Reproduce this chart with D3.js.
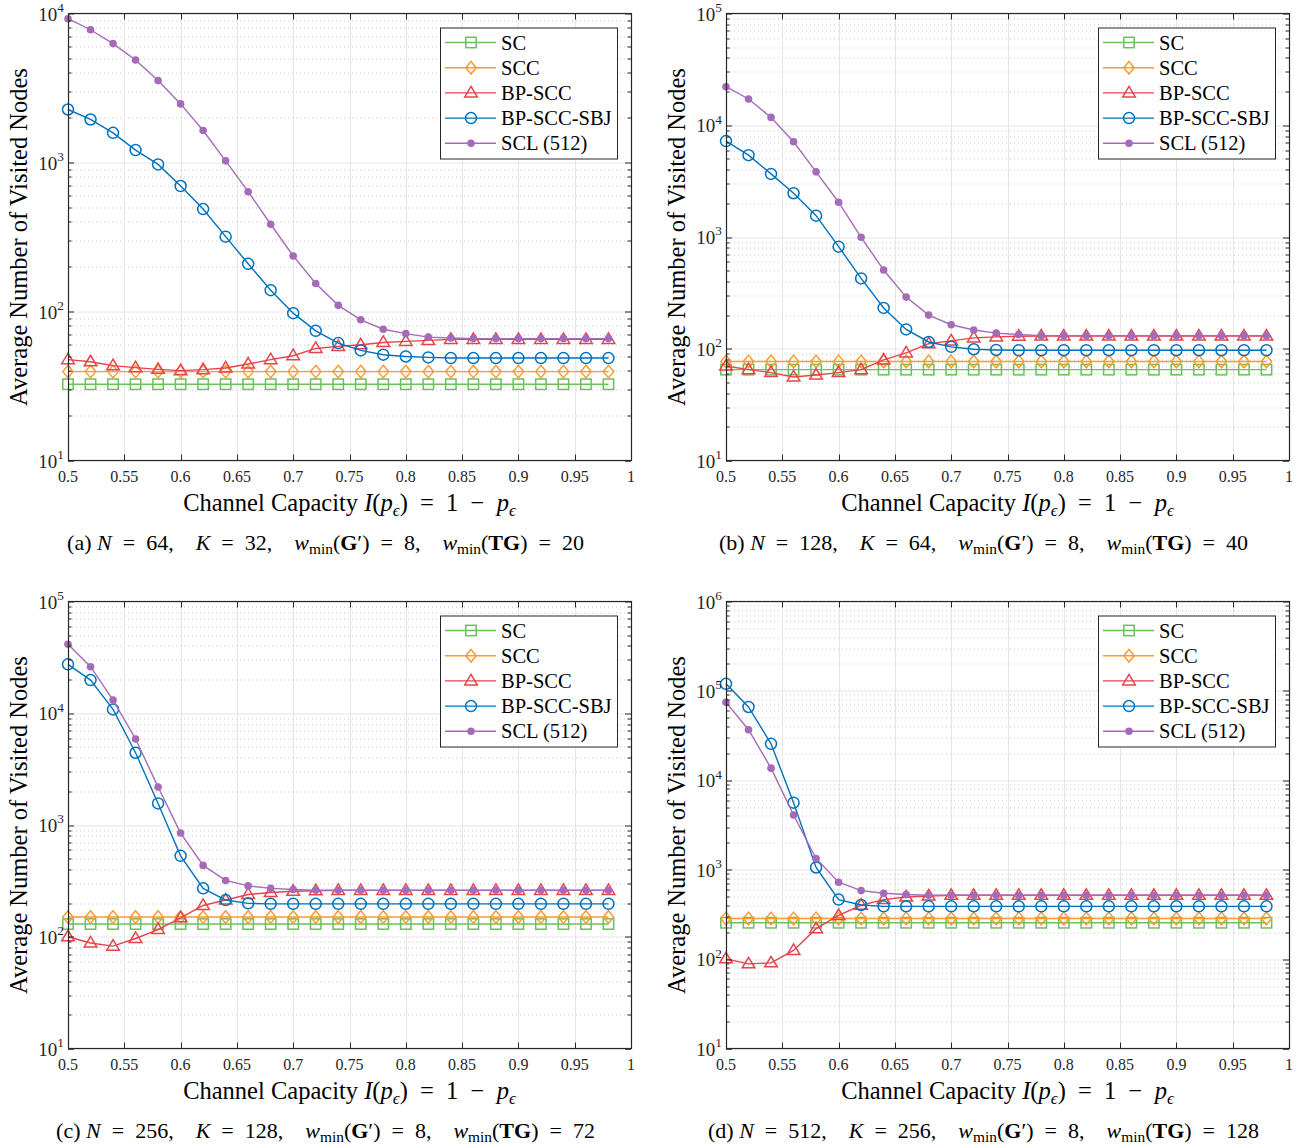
<!DOCTYPE html>
<html>
<head>
<meta charset="utf-8">
<script src="https://cdn.jsdelivr.net/npm/d3@7/dist/d3.min.js"></script>
<style>
body { margin: 0; background: #fff; }
text { font-family: "Liberation Serif", "Times New Roman", serif; white-space: pre; }
</style>
</head>
<body>
<svg id="chart" width="1301" height="1148"></svg>
<script>
// x values (channel capacity)
var capacity = [0.50, 0.52, 0.54, 0.56, 0.58, 0.60, 0.62, 0.64, 0.66, 0.68, 0.70, 0.72, 0.74,
                0.76, 0.78, 0.80, 0.82, 0.84, 0.86, 0.88, 0.90, 0.92, 0.94, 0.96, 0.98];
var xTicks = [0.5, 0.55, 0.6, 0.65, 0.7, 0.75, 0.8, 0.85, 0.9, 0.95, 1];
var xTickLabels = ['0.5', '0.55', '0.6', '0.65', '0.7', '0.75', '0.8', '0.85', '0.9', '0.95', '1'];
var seriesNames = ['SC', 'SCC', 'BP-SCC', 'BP-SCC-SBJ', 'SCL (512)'];

// (a) N = 64
var scA  = [32.5, 32.5, 32.5, 32.5, 32.5, 32.5, 32.5, 32.5, 32.5, 32.5, 32.5, 32.5, 32.5, 32.5, 32.5, 32.5, 32.5, 32.5, 32.5, 32.5, 32.5, 32.5, 32.5, 32.5, 32.5];
var sccA = [39.5, 39.5, 39.5, 39.5, 39.5, 39.5, 39.5, 39.5, 39.5, 39.5, 39.5, 39.5, 39.5, 39.5, 39.5, 39.5, 39.5, 39.5, 39.5, 39.5, 39.5, 39.5, 39.5, 39.5, 39.5];
var bpA  = [47.5, 46, 43.3, 42, 40.9, 40.1, 40.7, 41.8, 44.4, 47.5, 50.5, 56.5, 58.3, 59.8, 62, 63, 64, 65, 65, 65, 65, 65, 65, 65, 65];
var sbjA = [2268, 1944, 1581, 1211, 971, 695, 487, 318, 209, 139, 97.5, 74.2, 61.4, 54.8, 51.3, 49.9, 49.2, 48.7, 48.7, 48.7, 48.7, 48.7, 48.7, 48.7, 48.7];
var sclA = [9230, 7780, 6280, 4870, 3545, 2473, 1640, 1026, 637, 385, 236, 154, 110, 88, 76, 71, 67.3, 66.4, 65.8, 65.8, 65.8, 65.8, 65.8, 65.8, 65.8];

// (b) N = 128
var scB  = [65, 65, 65, 65, 65, 65, 65, 65, 65, 65, 65, 65, 65, 65, 65, 65, 65, 65, 65, 65, 65, 65, 65, 65, 65];
var sccB = [77, 77, 77, 77, 77, 77, 77, 77, 77, 77, 77, 77, 77, 77, 77, 77, 77, 77, 77, 77, 77, 77, 77, 77, 77];
var bpB  = [70, 65, 61.2, 55.9, 58.2, 61.2, 65, 79.4, 91.7, 111, 117.5, 125, 127.6, 129.5, 130, 130, 130, 130, 130, 130, 130, 130, 130, 130, 130];
var sbjB = [7220, 5400, 3670, 2465, 1553, 819, 426, 232, 149, 115, 104, 99, 97.5, 97, 97, 97, 97, 97, 97, 97, 97, 97, 97, 97, 97];
var sclB = [22130, 17180, 11750, 7110, 3830, 2047, 994, 506, 290, 200, 164, 147, 138, 134, 131, 131, 131, 131, 131, 131, 131, 131, 131, 131, 131];

// (c) N = 256
var scC  = [130, 130, 130, 130, 130, 130, 130, 130, 130, 130, 130, 130, 130, 130, 130, 130, 130, 130, 130, 130, 130, 130, 130, 130, 130];
var sccC = [150, 150, 150, 150, 150, 150, 150, 150, 150, 150, 150, 150, 150, 150, 150, 150, 150, 150, 150, 150, 150, 150, 150, 150, 150];
var bpC  = [100, 88, 82.4, 96.5, 116, 147.6, 190.6, 213, 239, 249, 255, 258, 260, 260, 260, 260, 260, 260, 260, 260, 260, 260, 260, 260, 260];
var sbjC = [27400, 19800, 10830, 4430, 1560, 530, 271, 213, 199, 197, 197, 197, 197, 197, 197, 197, 197, 197, 197, 197, 197, 197, 197, 197, 197];
var sclC = [41400, 26100, 13130, 5880, 2185, 847, 435, 319, 285, 271, 265, 261, 261, 261, 261, 261, 261, 261, 261, 261, 261, 261, 261, 261, 261];

// (d) N = 512
var scD  = [255, 255, 255, 255, 255, 255, 255, 255, 255, 255, 255, 255, 255, 255, 255, 255, 255, 255, 255, 255, 255, 255, 255, 255, 255];
var sccD = [285, 285, 285, 285, 285, 285, 285, 285, 285, 285, 285, 285, 285, 285, 285, 285, 285, 285, 285, 285, 285, 285, 285, 285, 285];
var bpD  = [100.7, 88.5, 90.8, 125, 219, 308, 400, 463, 495, 508, 517, 517, 517, 517, 517, 517, 517, 517, 517, 517, 517, 517, 517, 517, 517];
var sbjD = [119900, 66100, 25600, 5620, 1059, 463, 403, 389, 389, 389, 389, 389, 389, 389, 389, 389, 389, 389, 389, 389, 389, 389, 389, 389, 389];
var sclD = [74500, 36800, 13670, 4090, 1336, 724, 584, 545, 527, 517, 517, 517, 517, 517, 517, 517, 517, 517, 517, 517, 517, 517, 517, 517, 517];

// caption parameters and y-axis decades
var panelLetters = ['a', 'b', 'c', 'd'];
var codeN = [64, 128, 256, 512];
var codeK = [32, 64, 128, 256];
var wminG = [8, 8, 8, 8];
var wminTG = [20, 40, 72, 128];
var yMaxExp = [4, 5, 5, 6];

var colors = ['#6cbf5c', '#ff9a2e', '#e8434a', '#0072bd', '#a66bb8'];
var markers = ['square', 'diamond', 'triangle', 'circle', 'dot'];

var panelData = [
    [scA, sccA, bpA, sbjA, sclA],
    [scB, sccB, bpB, sbjB, sclB],
    [scC, sccC, bpC, sbjC, sclC],
    [scD, sccD, bpD, sbjD, sclD]
];

var svg = d3.select('#chart');
var plotW = 563, plotH = 447;
var lefts = [68, 726, 68, 726];
var tops = [13.5, 13.5, 601.5, 601.5];
var EQ = '\u2002=\u2002', GAP = ',\u2003';

function drawMarker(g, kind, x, y, color) {
    if (kind === 'square') {
        g.append('rect').attr('x', x - 5.2).attr('y', y - 5.2).attr('width', 10.4).attr('height', 10.4)
            .attr('fill', 'none').attr('stroke', color).attr('stroke-width', 1.5);
    } else if (kind === 'diamond') {
        g.append('path').attr('d', 'M' + x + ',' + (y - 6.3) + 'L' + (x + 5.2) + ',' + y + 'L' + x + ',' + (y + 6.3) + 'L' + (x - 5.2) + ',' + y + 'Z')
            .attr('fill', 'none').attr('stroke', color).attr('stroke-width', 1.5);
    } else if (kind === 'triangle') {
        g.append('path').attr('d', 'M' + x + ',' + (y - 6.5) + 'L' + (x + 6.3) + ',' + (y + 4) + 'L' + (x - 6.3) + ',' + (y + 4) + 'Z')
            .attr('fill', 'none').attr('stroke', color).attr('stroke-width', 1.5);
    } else if (kind === 'circle') {
        g.append('circle').attr('cx', x).attr('cy', y).attr('r', 5.5)
            .attr('fill', 'none').attr('stroke', color).attr('stroke-width', 1.5);
    } else {
        g.append('circle').attr('cx', x).attr('cy', y).attr('r', 3.8).attr('fill', color);
    }
}

// text with italic / bold / sub / sup pieces
function richText(t, parts, size) {
    var shift = 0;
    parts.forEach(function(p) {
        var kind = p[1] || '';
        var want = 0, fs = size;
        if (kind.indexOf('sub') >= 0) { want = size * 0.22; fs = size * 0.7; }
        if (kind === 'sup') { want = -size * 0.45; fs = size * 0.7; }
        var ts = t.append('tspan').text(p[0]).attr('font-size', fs);
        if (want !== shift) { ts.attr('dy', want - shift); shift = want; }
        if (kind === 'i' || kind === 'isub') ts.attr('font-style', 'italic');
        if (kind === 'b') ts.attr('font-weight', 'bold');
    });
}

panelData.forEach(function(series, pi) {
    var x0 = lefts[pi], y0 = tops[pi];
    var g = svg.append('g').attr('transform', 'translate(' + x0 + ',' + y0 + ')');
    var x = d3.scaleLinear().domain([0.5, 1]).range([0, plotW]);
    var y = d3.scaleLog().domain([10, Math.pow(10, yMaxExp[pi])]).range([plotH, 0]);

    // minor grid
    var minors = [];
    for (var e = 1; e < yMaxExp[pi]; e++) {
        for (var m = 2; m <= 9; m++) minors.push(m * Math.pow(10, e));
    }
    g.selectAll('.minor').data(minors).enter().append('line')
        .attr('x1', 0).attr('x2', plotW)
        .attr('y1', function(d) { return Math.round(y(d)) + 0.5; })
        .attr('y2', function(d) { return Math.round(y(d)) + 0.5; })
        .attr('stroke', '#c8c8c8').attr('stroke-width', 1).attr('stroke-dasharray', '1,3');

    // major grid
    var decades = d3.range(1, yMaxExp[pi] + 1).map(function(e) { return Math.pow(10, e); });
    g.selectAll('.hmaj').data(decades).enter().append('line')
        .attr('x1', 0).attr('x2', plotW)
        .attr('y1', function(d) { return Math.round(y(d)) + 0.5; })
        .attr('y2', function(d) { return Math.round(y(d)) + 0.5; })
        .attr('stroke', '#e6e6e6').attr('stroke-width', 1);
    g.selectAll('.vmaj').data(xTicks).enter().append('line')
        .attr('x1', function(d) { return Math.round(x(d)) + 0.5; })
        .attr('x2', function(d) { return Math.round(x(d)) + 0.5; })
        .attr('y1', 0).attr('y2', plotH)
        .attr('stroke', '#e6e6e6').attr('stroke-width', 1);

    // series
    series.forEach(function(vals, si) {
        var line = d3.line().x(function(d, i) { return x(capacity[i]); }).y(function(d) { return y(d); });
        g.append('path').datum(vals).attr('d', line).attr('fill', 'none')
            .attr('stroke', colors[si]).attr('stroke-width', 1.4);
        var mg = g.append('g');
        vals.forEach(function(v, i) { drawMarker(mg, markers[si], x(capacity[i]), y(v), colors[si]); });
    });

    // ticks on all four sides
    var ax = '#262626';
    xTicks.forEach(function(t) {
        var px = Math.round(x(t)) + 0.5;
        g.append('line').attr('x1', px).attr('x2', px).attr('y1', plotH).attr('y2', plotH - 6).attr('stroke', ax);
        g.append('line').attr('x1', px).attr('x2', px).attr('y1', 0).attr('y2', 6).attr('stroke', ax);
    });
    decades.concat(minors).concat([10]).forEach(function(t) {
        var py = Math.round(y(t)) + 0.5;
        var len = (Math.log10(t) % 1 === 0) ? 6 : 3.5;
        g.append('line').attr('x1', 0).attr('x2', len).attr('y1', py).attr('y2', py).attr('stroke', ax);
        g.append('line').attr('x1', plotW).attr('x2', plotW - len).attr('y1', py).attr('y2', py).attr('stroke', ax);
    });
    g.append('rect').attr('x', 0.5).attr('y', 0).attr('width', plotW).attr('height', plotH)
        .attr('fill', 'none').attr('stroke', ax).attr('stroke-width', 1.2);

    // tick labels
    xTicks.forEach(function(t, i) {
        g.append('text').attr('x', x(t)).attr('y', plotH + 21).attr('text-anchor', 'middle')
            .attr('font-size', 16).attr('fill', ax).text(xTickLabels[i]);
    });
    d3.range(1, yMaxExp[pi] + 1).forEach(function(e) {
        var t = g.append('text').attr('x', -4).attr('y', y(Math.pow(10, e)) + 7).attr('text-anchor', 'end').attr('fill', ax);
        richText(t, [['10', ''], [String(e), 'sup']], 19);
    });

    // axis labels
    g.append('text').attr('transform', 'translate(' + (-41) + ',' + (plotH / 2) + ') rotate(-90)')
        .attr('text-anchor', 'middle').attr('font-size', 24.5).attr('fill', '#000')
        .text('Average Number of Visited Nodes');
    var xl = g.append('text').attr('x', plotW / 2).attr('y', plotH + 50).attr('text-anchor', 'middle').attr('fill', '#000');
    richText(xl, [['Channel Capacity ', ''], ['I', 'i'], ['(', ''], ['p', 'i'], ['\u03f5', 'isub'],
        [')' + EQ + '1\u2002\u2212\u2002', ''], ['p', 'i'], ['\u03f5', 'isub']], 24.5);

    // caption
    var cap = g.append('text').attr('x', plotW / 2 - 24).attr('y', plotH + 89).attr('text-anchor', 'middle').attr('fill', '#000');
    richText(cap, [['(' + panelLetters[pi] + ') ', ''], ['N', 'i'], [EQ + codeN[pi] + GAP, ''],
        ['K', 'i'], [EQ + codeK[pi] + GAP, ''], ['w', 'i'], ['min', 'sub'], ['(', ''], ['G', 'b'],
        ['\u2032)' + EQ + wminG[pi] + GAP, ''], ['w', 'i'], ['min', 'sub'], ['(', ''], ['TG', 'b'],
        [')' + EQ + wminTG[pi], '']], 22);

    // legend
    var lg = g.append('g').attr('transform', 'translate(' + (plotW - 191) + ',14)');
    lg.append('rect').attr('x', 0.5).attr('y', 0.5).attr('width', 177).attr('height', 131)
        .attr('fill', '#fff').attr('stroke', ax).attr('stroke-width', 1);
    seriesNames.forEach(function(name, si) {
        var ry = 15 + si * 25.2;
        lg.append('line').attr('x1', 5).attr('x2', 56).attr('y1', ry).attr('y2', ry)
            .attr('stroke', colors[si]).attr('stroke-width', 1.4);
        drawMarker(lg, markers[si], 31, ry, colors[si]);
        lg.append('text').attr('x', 61).attr('y', ry + 7).attr('font-size', 20.5).attr('fill', '#000').text(name);
    });
});
</script>
</body>
</html>
